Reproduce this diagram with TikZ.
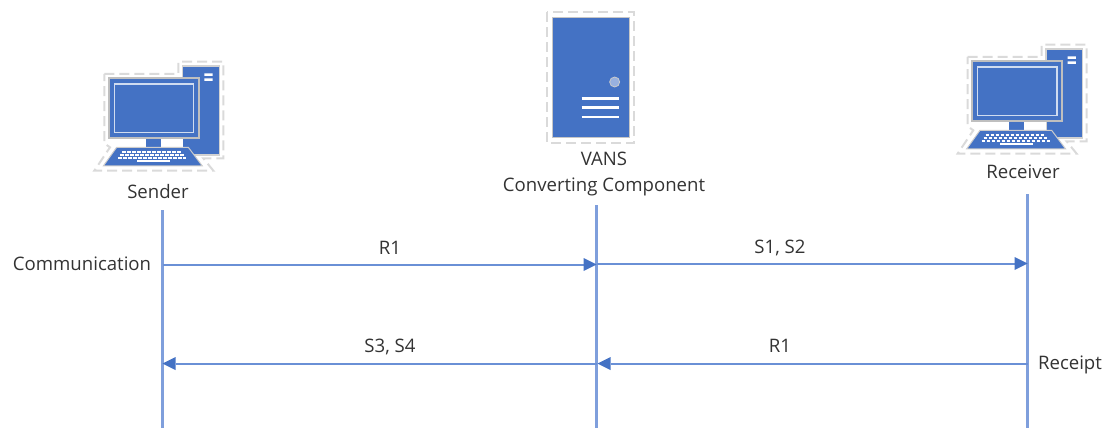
\documentclass[tikz,border=0pt]{standalone}
\usepackage{fontspec}
\setmainfont{Open Sans}
\usetikzlibrary{arrows.meta}
\definecolor{iconblue}{HTML}{4472C4}
\definecolor{lineblue}{HTML}{7F9FDC}
\definecolor{arrowblue}{HTML}{6A90D6}
\definecolor{dashgray}{HTML}{DADADA}
\definecolor{txt}{HTML}{333333}
\tikzset{
  x=1pt,y=-1pt,
  label text/.style={font=\fontsize{18.6}{21}\selectfont,text=txt,inner sep=0pt,anchor=center},
  lifeline/.style={draw=lineblue,line width=2.4pt},
  msg/.style={draw=arrowblue,line width=2pt,-{Triangle[length=13pt,width=13pt,fill=iconblue,line width=0pt]}},
  dashbox/.style={draw=dashgray,line width=2pt,dash pattern=on 10pt off 5pt},
  iconfill/.style={fill=iconblue},
  whiteline/.style={draw=white,line width=2.6pt},
  computer/.pic={
    \begin{scope}[x=.3333pt,y=-.3333pt]
      \draw[dashbox] (58,72)--(280,72)--(280,35)--(415,35)--(415,325)--(355,325)--(385,362)--(28,362)--(75,292)--(58,280)--cycle;
      \fill[iconfill,draw=gray!35,line width=1.2pt] (293,48) rectangle (403,315);
      \fill[white] (358,70) rectangle (383,78) (358,85) rectangle (383,93);
      \fill[white] (182,265) rectangle (293,292);
      \fill[iconfill] (182,265) rectangle (228,292);
      \fill[iconfill,draw=gray!50,line width=1.8pt] (72,85) rectangle (342,265);
      \draw[draw=white!75!iconblue,line width=1.6pt] (88,102) rectangle (326,248);
      \fill[iconfill,draw=white!60!gray,line width=1pt] (95,292)--(310,292)--(352,348)--(55,348)--cycle;
      \foreach \yy/\xa/\xb in {305/112/292,314/106/298,323/100/304}{
        \draw[white,line width=1.9pt,dash pattern=on 3.4pt off 1.6pt] (\xa,\yy)--(\xb,\yy);
      }
      \fill[white] (155,330) rectangle (255,337);
    \end{scope}
  },
}
\begin{document}
\begin{tikzpicture}
\useasboundingbox (0,0) rectangle (1107,428);
% sender and receiver icons
\pic at (85,50) {computer};
\pic at (948.3,33) {computer};
% server icon
\begin{scope}[shift={(530,5)},x=.3333pt,y=-.3333pt]
  \draw[dashbox] (52,22) rectangle (312,415);
  \fill[iconfill,draw=gray!45,line width=1.4pt] (68,38) rectangle (298,398);
  \fill[white!45!iconblue,draw=gray!40,line width=.8pt] (254,231) circle (15);
  \draw[whiteline] (155,280)--(268,280) (155,308)--(268,308) (155,336)--(268,336);
\end{scope}
% titles
\node[label text] (sender) at (158,192) {Sender};
\node[label text,align=center] (vans) at (604,174) {VANS\\[5.5pt]Converting Component};
\node[label text] (receiver) at (1023,172) {Receiver};
% lifeline ends
\coordinate (st) at (162.5,210);
\coordinate (sb) at (162.5,428);
\coordinate (vt) at (596.5,205);
\coordinate (vb) at (596.5,428);
\coordinate (rt) at (1027.5,194);
\coordinate (rb) at (1027.5,428);
\draw[lifeline] (st)--(sb);
\draw[lifeline] (vt)--(vb);
\draw[lifeline] (rt)--(rb);
% messages
\coordinate (s1) at (162.5,264.5);
\coordinate (v1) at (596.5,264.5);
\coordinate (v1b) at (596.5,263.5);
\coordinate (r1) at (1027.5,263.5);
\coordinate (r2) at (1027.5,363.5);
\coordinate (v2) at (597.5,363.5);
\coordinate (v3) at (596.5,363.5);
\coordinate (s2) at (162.5,363.5);
\draw[msg] (s1)--(v1);
\draw[msg] (v1b)--(r1);
\draw[msg] (r2)--(v2);
\draw[msg] (v3)--(s2);
% labels
\node[label text] (l1) at (390,248) {R1};
\node[label text] (l2) at (780,248) {S1, S2};
\node[label text] (l3) at (390,347) {S3, S4};
\node[label text] (l4) at (780,346) {R1};
\node[label text] (comm) at (82,264) {Communication};
\node[label text] (rec) at (1070,365) {Receipt};
\end{tikzpicture}
\end{document}
